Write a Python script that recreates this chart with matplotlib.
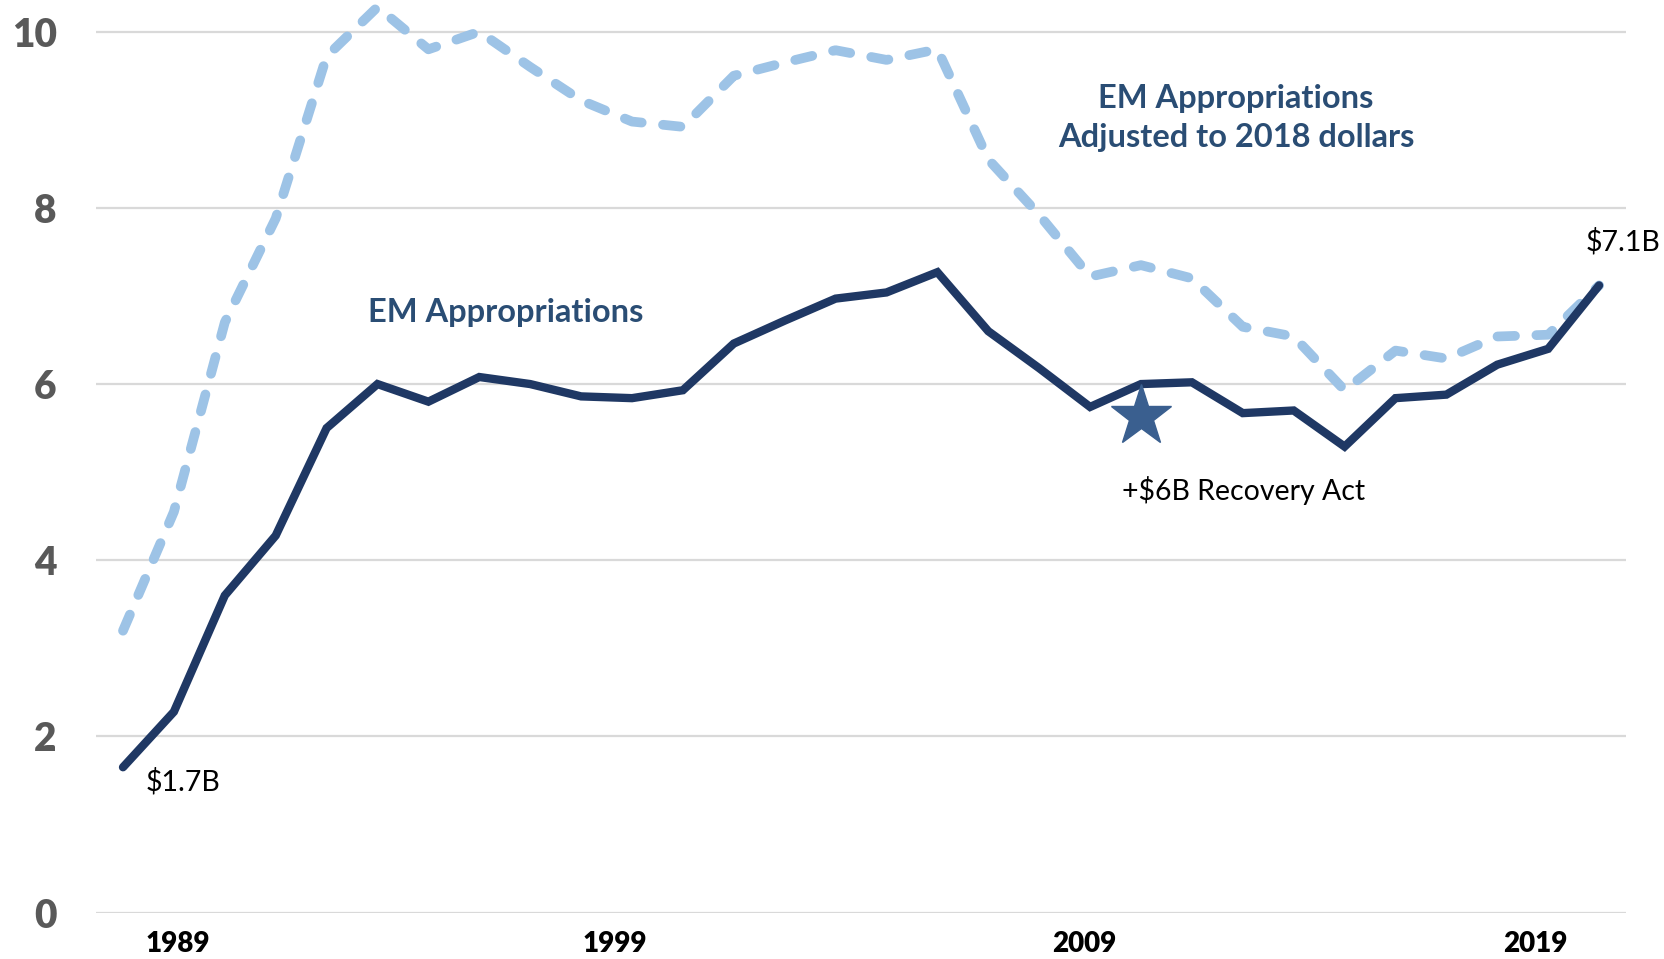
import matplotlib
matplotlib.use("Agg")
import matplotlib.pyplot as plt

# EM appropriations, billions of dollars
years = list(range(1989, 2019))
em_approp = [1.65, 2.28, 3.6, 4.28, 5.5, 6.0, 5.8, 6.08, 6.0, 5.86,
             5.84, 5.93, 6.46, 6.72, 6.97, 7.04, 7.27, 6.6, 6.18, 5.74,
             6.0, 6.02, 5.67, 5.7, 5.29, 5.84, 5.88, 6.22, 6.4, 7.12]
em_adjusted = [3.2, 4.55, 6.7, 7.88, 9.72, 10.28, 9.8, 10.0, 9.6, 9.22,
               8.98, 8.92, 9.5, 9.65, 9.79, 9.68, 9.8, 8.55, 7.92, 7.22,
               7.35, 7.2, 6.65, 6.54, 5.93, 6.38, 6.29, 6.54, 6.56, 7.12]

# the year labels are placed a bit off the data points in the original
xtick_pos = [1990.08, 1998.67, 2007.88, 2016.74]
xtick_labels = ["1989", "1999", "2009", "2019"]
yticks = [0, 2, 4, 6, 8, 10]

star_year, star_value = 2009, 5.64

plt.rcParams['font.family'] = ['Lato', 'DejaVu Sans']

fig = plt.figure(figsize=(16.64, 9.59), dpi=100)
ax = fig.add_axes([0.0574, 0.0484, 0.9198, 0.9516])

ax.plot(years, em_adjusted, color='#9dc3e6', linewidth=7,
        dashes=(1.8, 2.2), dash_capstyle='round', solid_capstyle='round', zorder=3)
ax.plot(years, em_approp, color='#1f3864', linewidth=6, solid_capstyle='round',
        solid_joinstyle='miter', zorder=4)
ax.plot([star_year], [star_value], marker='*', markersize=46, color='#3a5f8f',
        linestyle='none', zorder=5)

ax.set_xlim(1988.46, 2018.53)
ax.set_ylim(0, 10.36)
ax.set_yticks(yticks)
ax.set_xticks(xtick_pos)
ax.set_xticklabels(xtick_labels)
ax.grid(axis='y', color='#d9d9d9', linewidth=1.6)
ax.set_axisbelow(True)
for s in ax.spines.values():
    s.set_visible(False)
ax.tick_params(axis='both', length=0)
ax.tick_params(axis='y', labelsize=28, labelcolor='#595959', pad=28)
ax.tick_params(axis='x', labelsize=20, labelcolor='black', pad=13)
for lab in ax.get_yticklabels() + ax.get_xticklabels():
    lab.set_fontweight('heavy')

ax.text(1996.52, 6.81, "EM Appropriations", color='#2a4d74', fontsize=23.5,
        fontweight='bold', ha='center', va='center')
ax.text(2010.87, 9.02, "EM Appropriations\nAdjusted to 2018 dollars", color='#2a4d74',
        fontsize=23.5, fontweight='bold', ha='center', va='center', linespacing=1.45)
ax.text(2018.47, 7.62, "$7.1B", fontsize=20.5, ha='center', va='center', color='black')
ax.text(1989.45, 1.49, "$1.7B", fontsize=20.5, ha='left', va='center', color='black')
ax.text(2011.02, 4.79, "+$6B Recovery Act", fontsize=20.5, ha='center', va='center',
        color='black')

fig.savefig("out.png", dpi=100)
